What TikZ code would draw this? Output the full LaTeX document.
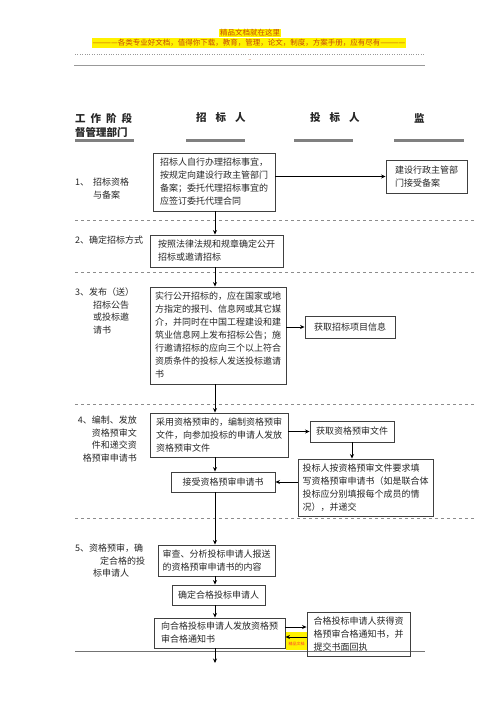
\documentclass[tikz,border=0pt]{standalone}
\usepackage{fontspec}
\setmainfont{Noto Sans CJK SC}
\usetikzlibrary{arrows.meta,positioning,calc}
\definecolor{wmred}{RGB}{196,72,10}
\definecolor{rulegray}{RGB}{128,128,128}

\begin{document}
\begin{tikzpicture}[
  x=1pt, y=-1pt,
  every node/.style={font=\fontsize{9}{13}\selectfont, text=black!85},
  box/.style={draw=black!75, line width=0.9pt, align=left, inner sep=3pt},
  arr/.style={-{Stealth[length=4.5pt,width=4pt]}, line width=0.8pt},
  stage/.style={anchor=north west, align=left, inner sep=0pt, font=\fontsize{9}{12.5}\selectfont},
  hdr/.style={anchor=west, inner sep=0pt, font=\fontsize{10.5}{13}\selectfont\bfseries},
  bar/.style={line width=3pt, rulegray},
  sep/.style={dashed, black!45, line width=0.5pt},
  wm/.style={fill=yellow, text=wmred, inner sep=1pt, font=\fontsize{7.5}{8}\selectfont}
]
  \useasboundingbox (0,0) rectangle (500,707);

  % page header
  \node[wm] (wmtop) at (250,33) {精品文档就在这里};
  \node[wm] (wmline) at (249,43) {————各类专业好文档，值得你下载，教育，管理，论文，制度，方案手册，应有尽有————};
  \draw[dotted, black!40] (75,54) -- (425,54);
  \node[text=wmred, inner sep=0pt, font=\fontsize{5}{5}\selectfont] (wmdash) at (250,61) {--};
  \draw[black!40, line width=0.8pt] (74,65) -- (425,65);

  % column heads
  \node[hdr] (stagehd) at (75,118) {工\hspace{5pt}作\hspace{5pt}阶\hspace{5pt}段};
  \node[hdr] (depthd) at (75,132) {督管理部门};
  \node[hdr] (tendhd) at (196,118) {招\hspace{9pt}标\hspace{9pt}人};
  \node[hdr] (bidhd) at (310,118) {投\hspace{9pt}标\hspace{9pt}人};
  \node[hdr] (suphd) at (414,118) {监};
  \draw[bar] (75,140) -- (134,140);
  \draw[bar] (186,140) -- (245,140);
  \draw[bar] (294,140) -- (353,140);
  \draw[bar] (394,140) -- (464,140);

  % stage labels
  \node[stage] (s1) at (75,178) {1、\hspace{4pt}招标资格\\\hspace*{18pt}与备案};
  \node[stage] (s2) at (75,236) {2、确定招标方式};
  \node[stage] (s3) at (75,288) {3、发布（送）\\\hspace*{18pt}招标公告\\\hspace*{18pt}或投标邀\\\hspace*{18pt}请书};
  \node[stage, anchor=north east, align=right] (s4) at (137,416) {4、编制、发放\\资格预审文\\件和递交资\\格预审申请书};
  \node[stage] (s5) at (75,544) {5、资格预审，确\\\hspace*{25pt}定合格的投\\\hspace*{18pt}标申请人};

  % separators
  \draw[sep] (75,220) -- (475,220);
  \draw[sep] (75,272) -- (475,272);
  \draw[sep] (75,404) -- (475,404);
  \draw[sep] (75,518) -- (475,518);
  \draw[black!55, line width=0.8pt] (75,651) -- (425,651);

  % boxes
  \node[box, minimum width=122, minimum height=58] (selfrun) at (214,182) {招标人自行办理招标事宜，\\按规定向建设行政主管部门\\备案；委托代理招标事宜的\\应签订委托代理合同};
  \node[box, minimum width=81, minimum height=33] (filing) at (426.5,176.5) {建设行政主管部\\门接受备案};
  \node[box, minimum width=133, minimum height=32] (method) at (216.5,251) {按照法律法规和规章确定公开\\招标或邀请招标};
  \node[box, minimum width=136, minimum height=97] (publish) at (218,335.5) {实行公开招标的，应在国家或地\\方指定的报刊、信息网或其它媒\\介，并同时在中国工程建设和建\\筑业信息网上发布招标公告；施\\行邀请招标的应向三个以上符合\\资质条件的投标人发送投标邀请\\书};
  \node[box, minimum width=90, minimum height=22] (getinfo) at (350,327) {获取招标项目信息};
  \node[box, minimum width=138, minimum height=44] (prequal) at (219,435) {采用资格预审的，编制资格预审\\文件，向参加投标的申请人发放\\资格预审文件};
  \node[box, minimum width=84, minimum height=21] (getdoc) at (352,431.5) {获取资格预审文件};
  \node[box, minimum width=135, minimum height=57] (fillin) at (365.5,487.5) {投标人按资格预审文件要求填\\写资格预审申请书（如是联合体\\投标应分别填报每个成员的情\\况），并递交};
  \node[box, minimum width=104, minimum height=20] (accept) at (223,482) {接受资格预审申请书};
  \node[box, minimum width=117, minimum height=31] (review) at (216.5,560.5) {审查、分析投标申请人报送\\的资格预审申请书的内容};
  \node[box, minimum width=93, minimum height=20] (qualify) at (218.5,595) {确定合格投标申请人};
  \node[box, minimum width=131, minimum height=30] (issue) at (219.5,633) {向合格投标申请人发放资格预\\审合格通知书};
  \node[box, minimum width=103, minimum height=44] (notice) at (358.5,634) {合格投标申请人获得资\\格预审合格通知书，并\\提交书面回执};

  % stamp left on the last row
  \fill[yellow] (286,632) rectangle (307,650);
  \node[text=red!80, inner sep=0pt, font=\fontsize{4}{4}\selectfont] (stamp) at (296.5,644) {精品文档};

  % connectors
  \coordinate (spine) at (215,0);
  \draw[arr] (selfrun.south -| spine) -- (method.north -| spine);
  \draw[arr] (selfrun.east |- filing.west) -- (filing.west);
  \draw[arr] (method.south -| spine) -- (publish.north -| spine);
  \draw[arr] (publish.east |- getinfo.west) -- (getinfo.west);
  \draw[arr] (publish.south -| spine) -- (prequal.north -| spine);
  \draw[arr] (prequal.east |- getdoc.west) -- (getdoc.west);
  \draw[arr] (getdoc.south) -- (getdoc.south |- fillin.north);
  \draw[arr] (fillin.west |- accept.east) -- (accept.east);
  \draw[arr] (prequal.south -| spine) -- (accept.north -| spine);
  \draw[arr] (accept.south -| spine) -- (review.north -| spine);
  \draw[arr] (review.south -| spine) -- (qualify.north -| spine);
  \draw[arr] (qualify.south -| spine) -- (issue.north -| spine);
  \draw[arr] ($(issue.east)+(0,-6)$) -- ($(issue.east -| notice.west)+(0,-6)$);
  \draw[arr] ($(issue.east -| notice.west)+(0,4)$) -- ($(issue.east)+(0,4)$);
  \coordinate (next) at (215,663);
  \draw[arr] (issue.south -| spine) -- (next);
\end{tikzpicture}
\end{document}
